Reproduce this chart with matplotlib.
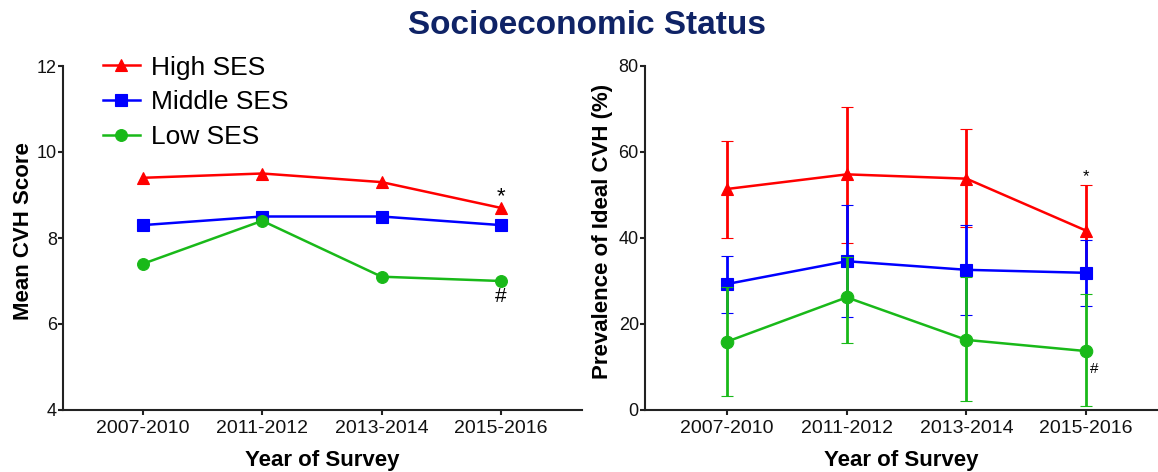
import matplotlib
matplotlib.use("Agg")
import matplotlib.pyplot as plt
from matplotlib.lines import Line2D

plt.rcParams['font.family'] = ['Liberation Sans', 'DejaVu Sans']

# ---- data ----
periods = ["2007-2010", "2011-2012", "2013-2014", "2015-2016"]
groups = ["High SES", "Middle SES", "Low SES"]

score_high = [9.4, 9.5, 9.3, 8.7]
score_mid = [8.3, 8.5, 8.5, 8.3]
score_low = [7.4, 8.4, 7.1, 7.0]

prev_high = [51.4, 54.8, 53.8, 41.7]
prev_high_lo = [40.1, 38.9, 42.5, 31.0]
prev_high_hi = [62.6, 70.5, 65.3, 52.4]

prev_mid = [29.3, 34.6, 32.6, 31.9]
prev_mid_lo = [22.6, 21.7, 22.1, 24.2]
prev_mid_hi = [35.7, 47.7, 43.0, 39.6]

prev_low = [15.9, 26.2, 16.3, 13.7]
prev_low_lo = [3.3, 15.5, 2.0, 0.9]
prev_low_hi = [28.6, 35.6, 31.0, 27.0]

left_ticks = [4, 6, 8, 10, 12]
right_ticks = [0, 20, 40, 60, 80]

# ---- style ----
RED = "#FF0000"
BLUE = "#0000FF"
GREEN = "#19B919"
NAVY = "#0F2366"
AX = "#222222"
markers = ["^", "s", "o"]
colors = [RED, BLUE, GREEN]
LW = 1.8
MS = 8.5

W, H = 1158, 472
fig = plt.figure(figsize=(W / 100, H / 100), dpi=100)

axL = fig.add_axes([63 / W, 62 / H, 519 / W, 344 / H])
axR = fig.add_axes([645 / W, 62 / H, 519 / W, 344 / H])

x = list(range(len(periods)))

def style(ax, ylim, yticks, xlim):
    for s in ["top", "right"]:
        ax.spines[s].set_visible(False)
    for s in ["left", "bottom"]:
        ax.spines[s].set_linewidth(1.5)
        ax.spines[s].set_color(AX)
    ax.set_xlim(*xlim)
    ax.set_ylim(*ylim)
    ax.set_yticks(yticks)
    ax.set_xticks(x)
    ax.set_xticklabels(periods)
    ax.tick_params(axis="x", direction="out", length=3.5, width=1.5, color=AX,
                   labelsize=14, pad=4, labelcolor="#111111")
    ax.tick_params(axis="y", direction="out", length=3.5, width=1.5, color=AX,
                   labelsize=13, pad=1, labelcolor="#111111")
    ax.set_facecolor("none")

# ---- left panel ----
style(axL, (4, 12), left_ticks, (-0.67, 3.68))
for vals, m, c, lab in zip([score_high, score_mid, score_low], markers, colors, groups):
    axL.plot(x, vals, color=c, marker=m, markersize=MS, linewidth=LW,
             markeredgewidth=0.8, label=lab, clip_on=False)
axL.text(3, 8.95, "*", ha="center", va="center", fontsize=16)
axL.text(3, 6.63, "#", ha="center", va="center", fontsize=15)
axL.set_ylabel("Mean CVH Score", fontsize=16, fontweight="bold")
axL.yaxis.set_label_coords(-0.077, 0.52)
axL.yaxis.label.set_va("center")
axL.set_xlabel("Year of Survey", fontsize=16, fontweight="bold")
axL.xaxis.set_label_coords(0.5, -0.115)

handles = [Line2D([0], [0], color=c, marker=m, markersize=MS, linewidth=LW,
                  markeredgewidth=0.8) for m, c in zip(markers, colors)]
leg = axL.legend(handles, groups, loc="upper left", bbox_to_anchor=(0.056, 1.061),
                 frameon=False, fontsize=19, handlelength=1.4, handletextpad=0.45,
                 labelspacing=0.41, borderaxespad=0)

# ---- right panel ----
style(axR, (0, 80), right_ticks, (-0.685, 3.65))
series = [
    (prev_high, prev_high_lo, prev_high_hi),
    (prev_mid, prev_mid_lo, prev_mid_hi),
    (prev_low, prev_low_lo, prev_low_hi),
]
for z, ((v, lo, hi), m, c) in enumerate(zip(series, markers, colors)):
    yerr = [[vi - l for vi, l in zip(v, lo)], [h - vi for vi, h in zip(v, hi)]]
    axR.errorbar(x, v, yerr=yerr, color=c, marker=m, markersize=MS + 0.5,
                 linewidth=LW, elinewidth=LW + 0.2, capsize=4, capthick=LW + 0.2,
                 markeredgewidth=0.8, zorder=3 + z, clip_on=False)
axR.text(3, 54.2, "*", ha="center", va="center", fontsize=12)
axR.text(3.07, 9.6, "#", ha="center", va="center", fontsize=11)
axR.set_ylabel("Prevalence of Ideal CVH (%)", fontsize=16, fontweight="bold")
axR.yaxis.set_label_coords(-0.082, 0.52)
axR.yaxis.label.set_va("center")
axR.set_xlabel("Year of Survey", fontsize=16, fontweight="bold")
axR.xaxis.set_label_coords(0.494, -0.115)

fig.text(587 / W, 1 - 26 / H, "Socioeconomic Status", ha="center", va="center",
         fontsize=24, fontweight="bold", color=NAVY)

fig.savefig("out.png", dpi=100)
